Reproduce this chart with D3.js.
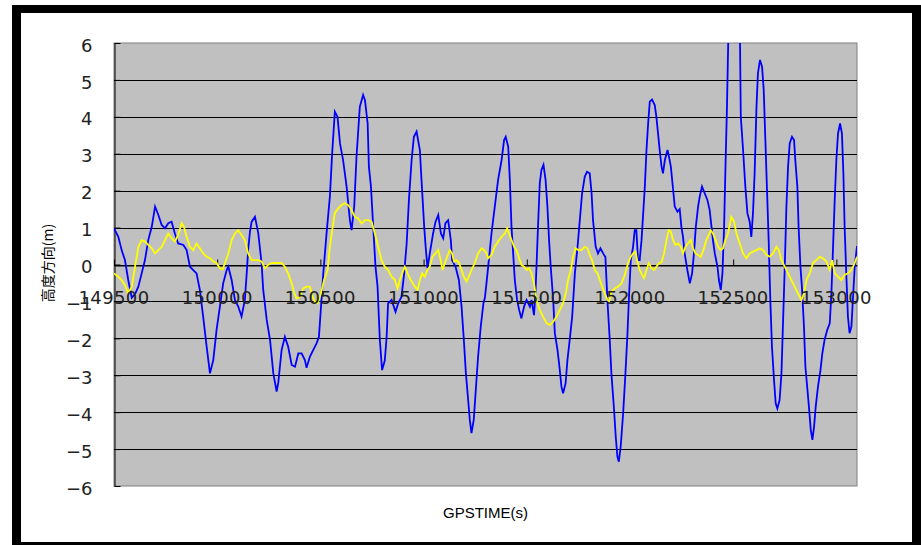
<!DOCTYPE html>
<html><head><meta charset="utf-8">
<script src="https://cdn.jsdelivr.net/npm/d3@7"></script>
<style>body{margin:0;background:#fff;overflow:hidden}</style>
</head><body>
<svg id="c" width="921" height="545"></svg>
<script>
const xTicks = [149500,150000,150500,151000,151500,152000,152500,153000];
const yTicks = [-6,-5,-4,-3,-2,-1,0,1,2,3,4,5,6];
const xTitle = "GPSTIME(s)";
const yTitle = "高度方向(m)";

const blueTime = [149500,149521,149537,149553,149569,149586,149602,149618,149634,149650,149666,149683,149699,149715,149731,149747,149763,149779,149795,149811,149836,149852,149868,149884,149900,149916,149932,149949,149965,149981,149997,150013,150029,150046,150054,150070,150086,150102,150118,150134,150143,150150,150159,150167,150183,150199,150215,150223,150240,150256,150272,150288,150296,150312,150328,150344,150361,150377,150393,150409,150425,150433,150449,150465,150482,150493,150503,150514,150530,150546,150557,150570,150583,150595,150610,150627,150643,150651,150664,150675,150691,150707,150716,150729,150735,150745,150756,150767,150777,150788,150799,150812,150821,150828,150845,150864,150877,150893,150906,150918,150929,150942,150953,150966,150982,150990,151003,151010,151019,151030,151046,151058,151071,151084,151095,151106,151119,151132,151138,151155,151171,151184,151195,151205,151216,151224,151232,151243,151253,151264,151277,151290,151297,151305,151313,151329,151345,151361,151378,151390,151398,151410,151418,151426,151434,151442,151453,151463,151474,151487,151499,151515,151523,151535,151542,151547,151555,151563,151571,151581,151591,151600,151608,151616,151628,151636,151649,151660,151668,151676,151688,151697,151708,151720,151733,151746,151757,151768,151781,151792,151805,151814,151821,151834,151845,151857,151870,151881,151891,151902,151910,151923,151931,151939,151946,151955,151967,151978,151988,151996,152004,152015,152023,152031,152039,152047,152056,152063,152072,152080,152088,152096,152107,152120,152128,152136,152144,152153,152160,152169,152182,152189,152198,152206,152217,152230,152241,152249,152257,152265,152278,152290,152301,152310,152319,152330,152338,152349,152362,152375,152386,152395,152402,152411,152424,152431,152440,152448,152456,152462,152470,152478,152505,152532,152537,152548,152559,152569,152580,152588,152596,152604,152613,152620,152630,152640,152648,152656,152664,152672,152680,152688,152698,152706,152714,152725,152734,152741,152750,152758,152766,152774,152785,152795,152801,152811,152817,152826,152833,152843,152850,152860,152867,152876,152884,152892,152900,152911,152923,152932,152943,152956,152968,152976,152984,152992,153000,153008,153018,153027,153034,153040,153048,153056,153064,153073,153080,153089,153100];
const blueHeight = [0.98,0.75,0.39,0.12,-0.42,-0.9,-0.8,-0.6,-0.24,0.12,0.66,1.02,1.57,1.34,1.07,0.98,1.12,1.16,0.84,0.57,0.53,0.39,-0.06,-0.15,-0.24,-0.69,-1.41,-2.23,-2.95,-2.59,-1.77,-1.14,-0.51,-0.15,-0.06,-0.42,-0.96,-1.14,-1.41,-0.96,-0.24,0.4,0.9,1.16,1.29,0.85,0.04,-0.69,-1.5,-2.04,-2.95,-3.44,-3.2,-2.32,-1.96,-2.23,-2.72,-2.77,-2.41,-2.41,-2.59,-2.8,-2.5,-2.32,-2.13,-1.96,-1.14,-0.24,0.85,1.84,3.01,4.14,4.0,3.28,2.83,2.11,1.2,0.93,1.57,2.92,4.27,4.59,4.45,3.82,2.65,2.11,1.02,-0.06,-0.6,-2.04,-2.86,-2.6,-1.96,-1.05,-0.96,-1.28,-1.05,-0.87,-0.24,0.57,1.75,2.83,3.46,3.6,3.1,2.29,1.02,0.48,-0.1,0.3,0.84,1.16,1.34,0.84,0.71,1.12,1.2,0.66,0.12,-0.06,-0.42,-1.14,-2.04,-2.95,-3.67,-4.21,-4.57,-4.21,-3.4,-2.5,-1.68,-1.05,-0.9,-0.5,-0.06,0.84,1.57,2.29,2.83,3.37,3.46,3.19,2.29,1.02,0.3,-0.42,-0.96,-1.23,-1.46,-1.14,-0.96,-1.14,-0.96,-1.37,-0.78,-0.06,1.11,2.2,2.56,2.7,2.29,1.57,0.66,-0.06,-0.96,-1.86,-2.32,-2.86,-3.31,-3.49,-3.22,-2.59,-2.04,-1.41,-0.24,0.48,1.2,1.93,2.38,2.51,2.47,1.93,1.2,0.48,0.3,0.44,0.3,0.2,-1.0,-2.04,-2.95,-3.94,-4.66,-5.2,-5.34,-4.93,-4.03,-2.95,-1.86,-0.78,0.12,0.48,0.93,0.93,0.12,0.12,0.66,1.29,2.11,3.1,3.82,4.41,4.47,4.32,4.0,3.55,3.1,2.65,2.47,2.83,3.1,2.92,2.65,2.2,1.57,1.43,1.5,1.02,0.75,0.3,-0.15,-0.51,-0.24,0.3,1.02,1.57,1.84,2.11,1.93,1.75,1.48,1.02,0.66,0.3,-0.06,-0.42,-0.69,-0.24,1.02,2.47,4.27,6.6,7.2,6.6,4.0,3.1,2.11,1.39,1.16,0.75,1.39,2.47,4.27,5.18,5.54,5.36,4.73,3.37,2.02,0.66,-0.96,-2.23,-3.13,-3.76,-3.9,-3.67,-2.95,-1.68,-0.06,1.57,2.65,3.28,3.46,3.37,2.83,2.11,1.02,-0.06,-0.6,-1.68,-2.77,-3.4,-3.85,-4.48,-4.75,-4.39,-3.85,-3.31,-2.86,-2.41,-2.04,-1.77,-1.59,-0.78,0.48,1.75,2.83,3.55,3.82,3.55,2.47,1.02,-0.24,-1.41,-1.86,-1.68,-0.96,-0.06,0.5];

const yellowTime = [149500,149521,149537,149553,149569,149586,149602,149618,149634,149650,149666,149683,149699,149715,149731,149747,149763,149779,149795,149811,149828,149839,149852,149868,149884,149900,149916,149932,149949,149965,149981,149997,150013,150026,150038,150054,150070,150086,150102,150118,150134,150150,150167,150183,150199,150215,150231,150247,150264,150280,150296,150312,150328,150344,150361,150373,150385,150401,150417,150433,150449,150462,150473,150487,150503,150518,150535,150546,150557,150570,150586,150603,150619,150635,150651,150667,150683,150700,150716,150732,150748,150764,150780,150796,150812,150828,150845,150861,150874,150885,150896,150909,150922,150938,150958,150971,150982,150993,151006,151019,151030,151043,151058,151071,151084,151092,151103,151114,151127,151138,151148,151160,151172,151184,151195,151208,151219,151232,151248,151264,151281,151293,151305,151313,151329,151345,151361,151378,151394,151405,151414,151426,151439,151450,151461,151474,151487,151499,151511,151523,151535,151547,151563,151579,151596,151612,151628,151644,151660,151676,151689,151700,151713,151724,151736,151749,151765,151781,151794,151805,151816,151830,151843,151854,151865,151878,151891,151899,151910,151926,151942,151959,151975,151991,152004,152015,152027,152036,152047,152059,152068,152080,152091,152104,152117,152128,152141,152153,152165,152177,152188,152198,152209,152220,152233,152246,152257,152269,152281,152294,152306,152317,152330,152343,152356,152370,152382,152391,152402,152415,152427,152440,152451,152462,152475,152491,152504,152516,152532,152548,152564,152580,152596,152613,152629,152645,152661,152677,152693,152710,152721,152734,152750,152766,152782,152798,152814,152831,152843,152855,152871,152887,152903,152919,152935,152952,152968,152979,152992,153008,153024,153040,153056,153073,153089,153100];
const yellowHeight = [-0.24,-0.33,-0.42,-0.56,-0.78,-0.6,-0.06,0.48,0.66,0.62,0.53,0.44,0.3,0.39,0.48,0.66,0.84,0.71,0.62,0.8,1.12,1.02,0.75,0.48,0.39,0.57,0.44,0.3,0.21,0.17,0.08,0.04,-0.1,-0.13,0.04,0.3,0.66,0.84,0.93,0.8,0.66,0.3,0.12,0.12,0.12,0.08,-0.1,-0.01,0.04,0.04,0.04,0.04,-0.06,-0.24,-0.51,-0.78,-0.92,-0.87,-0.65,-0.6,-0.6,-0.87,-1.01,-1.05,-0.78,-0.42,-0.15,0.48,0.93,1.39,1.52,1.61,1.66,1.61,1.48,1.29,1.25,1.11,1.2,1.2,1.16,0.84,0.48,0.12,-0.06,-0.15,-0.33,-0.42,-0.65,-0.42,-0.24,-0.06,-0.24,-0.42,-0.6,-0.69,-0.42,-0.24,-0.33,-0.15,-0.06,0.21,0.3,0.39,0.08,-0.15,0.04,0.21,0.39,0.3,0.08,0.12,0.04,-0.15,-0.33,-0.46,-0.33,-0.15,0.04,0.3,0.44,0.39,0.3,0.17,0.26,0.48,0.62,0.75,0.84,0.98,0.84,0.66,0.48,0.39,0.21,-0.01,-0.06,-0.15,-0.1,-0.24,-0.51,-0.96,-1.23,-1.41,-1.59,-1.64,-1.55,-1.41,-1.23,-1.05,-0.78,-0.42,-0.15,0.21,0.44,0.39,0.39,0.48,0.44,0.26,0.12,-0.15,-0.24,-0.42,-0.6,-0.78,-0.96,-1.0,-0.74,-0.65,-0.6,-0.51,-0.28,0.04,0.21,0.3,0.35,0.08,-0.15,-0.28,-0.37,-0.15,0.04,-0.1,-0.15,-0.06,0.04,0.06,0.3,0.66,0.93,0.89,0.66,0.53,0.57,0.48,0.3,0.48,0.57,0.66,0.44,0.3,0.26,0.21,0.39,0.66,0.8,0.93,0.84,0.66,0.48,0.39,0.44,0.66,0.84,1.29,1.16,0.84,0.57,0.3,0.17,0.3,0.35,0.39,0.44,0.39,0.26,0.21,0.3,0.48,0.39,0.12,-0.06,-0.24,-0.42,-0.6,-0.78,-0.96,-0.78,-0.42,-0.24,0.04,0.12,0.21,0.17,0.08,-0.15,0.12,-0.24,-0.33,-0.42,-0.28,-0.24,-0.15,0.04,0.21];

const svg = d3.select("#c");
// outer frame
svg.append("rect").attr("x",12).attr("y",5).attr("width",909).attr("height",540).attr("fill","#000");
svg.append("rect").attr("x",21).attr("y",13).attr("width",891).attr("height",529).attr("fill","#fff");

const L=114, R=857, T=43, B=486;
const x = d3.scaleLinear().domain([149500,153100]).range([L,R]);
const y = d3.scaleLinear().domain([-6,6]).range([B,T]);

svg.append("rect").attr("x",L).attr("y",T).attr("width",R-L).attr("height",B-T)
  .attr("fill","#c0c0c0").attr("stroke","#808080").attr("stroke-width",1);

// gridlines
svg.append("g").selectAll("line").data(yTicks.filter(v=>v>-6&&v<6)).join("line")
  .attr("x1",L).attr("x2",R).attr("y1",d=>Math.round(y(d))+0.5).attr("y2",d=>Math.round(y(d))+0.5)
  .attr("stroke","#000").attr("stroke-width",1);

// left axis
const yAxis = d3.axisLeft(y).tickValues(yTicks).tickSizeInner(-6).tickSizeOuter(0).tickPadding(22)
  .tickFormat(d=> d<0 ? "\u2212"+Math.abs(d) : String(d));
const gy = svg.append("g").attr("transform",`translate(${L+0.5},0)`).call(yAxis);
gy.select(".domain").attr("stroke","#000");
gy.selectAll(".tick line").attr("stroke","#000");
gy.selectAll(".tick text").attr("font-family","DejaVu Sans").attr("font-size",18).attr("fill","#222")
  .attr("dy","0.45em");

// x axis at zero
const xAxis = d3.axisTop(x).tickValues(xTicks).tickSizeInner(6).tickSizeOuter(0).tickFormat(d3.format("d"));
const gx = svg.append("g").attr("transform",`translate(0,${Math.round(y(0))+0.5})`).call(xAxis);
gx.select(".domain").attr("stroke","#000");
gx.selectAll(".tick line").attr("stroke","#000");
gx.selectAll(".tick text").remove();

// clip
svg.append("clipPath").attr("id","pc").append("rect").attr("x",L).attr("y",T).attr("width",R-L).attr("height",B-T);

const line = d3.line().x(d=>x(d[0])).y(d=>y(d[1]));
const blue = blueTime.map((t,i)=>[t,blueHeight[i]]);
const yellow = yellowTime.map((t,i)=>[t,yellowHeight[i]]);
const lg = svg.append("g").attr("clip-path","url(#pc)");
lg.append("path").datum(blue).attr("d",line).attr("fill","none").attr("stroke","#0000ff").attr("stroke-width",1.8);
lg.append("path").datum(yellow).attr("d",line).attr("fill","none").attr("stroke","#ffff00").attr("stroke-width",1.8);

// x tick labels (drawn on top)
svg.append("g").selectAll("text").data(xTicks).join("text")
  .attr("x",d=>x(d)).attr("y",y(0)+39.5).attr("text-anchor","middle")
  .attr("font-family","DejaVu Sans").attr("font-size",18).attr("letter-spacing","0.4px").attr("fill","#222")
  .text(d=>d3.format("d")(d));

// titles
svg.append("text").attr("x",(L+R)/2).attr("y",518).attr("text-anchor","middle")
  .attr("font-family","Liberation Sans").attr("font-size",15).attr("fill","#000").text(xTitle);
svg.append("text").attr("transform","translate(53,263) rotate(-90)").attr("text-anchor","middle")
  .attr("font-family","Noto Sans CJK JP").attr("font-size",14).attr("fill","#000").text(yTitle);
</script>
</body></html>
